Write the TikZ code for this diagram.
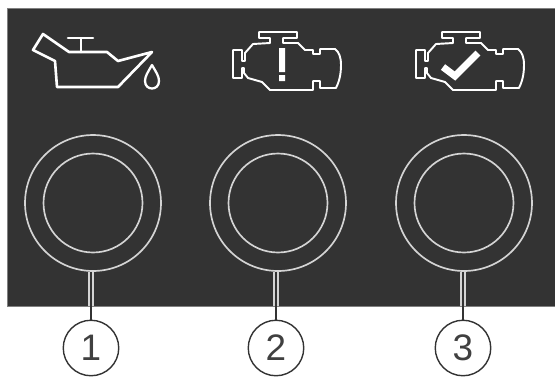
\documentclass[tikz,border=0pt]{standalone}
\usepackage{fontspec}
\setmainfont{Liberation Sans}
\definecolor{panelgray}{HTML}{333333}
\definecolor{ringgray}{HTML}{D4D4D4}
\tikzset{
    ring/.style={circle,draw=ringgray,line width=0.95pt,inner sep=0pt},
    callout/.style={circle,draw=black!80,fill=white,line width=0.8pt,minimum size=1.11cm,inner sep=0pt,font=\fontsize{21pt}{21pt}\selectfont,text=black!75},
    symbol/.style={draw=white,line width=1.5pt,line join=round,line cap=round},
    pics/engine/.style={code={
        \draw[symbol,line width=1.1pt] (80,33)--(80,28)--(69,28)--(69,22)--(107,22)--(107,28)--(93,28)--(93,33)--(108,33)
            --(115,40)--(123,40)--(123,44)--(130,44)--(130,39)--(145,39)
            .. controls (149,42) and (151,47) .. (151,55)
            .. controls (151,65) and (149,72) .. (146,78)
            --(130,78)--(130,71)--(123,71)--(123,80)--(80,80)--(72,72)--(58,68)--(54,63)--(54,58)--(52,58)--(52,68)--(43,68)--(43,40)--(52,40)--(52,51)--(55,51)--(55,43)--(63,34)--cycle;
    }}
}
\begin{document}
\begin{tikzpicture}[x=0.02cm,y=-0.02cm,font=\small]
    \useasboundingbox (0,0) rectangle (555,376);
    \node[fill=panelgray,draw=gray,line width=0.2pt,minimum width=10.96cm,minimum height=5.96cm,inner sep=0pt] (panel) at (281,157) {};
    % oil can
    \draw[symbol] (43,34)--(33,50)--(55,61)--(57,87)--(118,87)--(152,52)--(118,61)--(107,52)--(69,52)--cycle;
    \draw[symbol] (81,39)--(81,52) (68,38)--(93,38);
    \draw[symbol,line width=1.3pt] (152,65) .. controls (148,72) and (145,76) .. (145,81)
        .. controls (145,91) and (159,91) .. (159,81)
        .. controls (159,76) and (156,72) .. (152,65) -- cycle;
    % engines
    \pic at (190,10) {engine};
    \fill[white] (279,48) rectangle (285,72) (279,75) rectangle (285,81);
    \pic at (373,10) {engine};
    \draw[white,line width=1.4mm] (443,67)--(455,76)--(478,53);
    % rings and numbers
    \foreach \x/\y/\n in {93/91/1,278/276/2,464/463/3} {
        \node[ring,minimum size=2.72cm] (outer\n) at (\x,203) {};
        \node[ring,minimum size=1.98cm] (inner\n) at (\x,203) {};
        \node[callout] (num\n) at (\y,348) {\n};
        \draw[ringgray,line width=1.25mm] (num\n.north |- outer\n.south) -- (num\n.north |- panel.south);
        \draw[black!80,line width=0.45mm] (num\n.north |- outer\n.south) -- (num\n.north);
    }
\end{tikzpicture}
\end{document}
